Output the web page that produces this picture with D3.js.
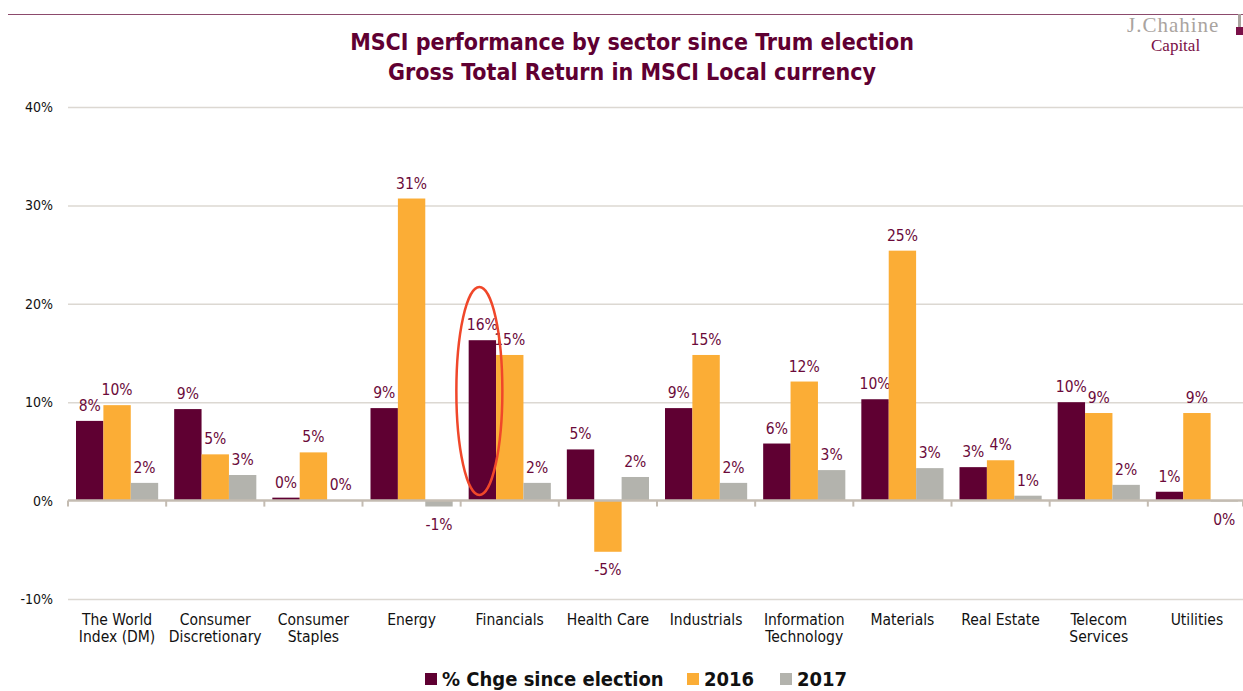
<!DOCTYPE html>
<html>
<head>
<meta charset="utf-8">
<script src="https://cdn.jsdelivr.net/npm/d3@7"></script>
<style>
  body { margin: 0; background: #fff; }
  svg { display: block; font-family: "DejaVu Sans Condensed", "DejaVu Sans", sans-serif; }
</style>
</head>
<body>
<svg id="chart" width="1243" height="691"></svg>
<script>
"use strict";

// chart data
const categories = [
  ["The World", "Index (DM)"], ["Consumer", "Discretionary"], ["Consumer", "Staples"],
  ["Energy"], ["Financials"], ["Health Care"], ["Industrials"],
  ["Information", "Technology"], ["Materials"], ["Real Estate"],
  ["Telecom", "Services"], ["Utilities"]
];
const seriesNames = ["% Chge since election", "2016", "2017"];
const sinceElection = [8.1, 9.3, 0.3, 9.4, 16.3, 5.2, 9.4, 5.8, 10.3, 3.4, 10.0, 0.9];
const y2016 = [9.7, 4.7, 4.9, 30.7, 14.8, -5.2, 14.8, 12.1, 25.4, 4.1, 8.9, 8.9];
const y2017 = [1.8, 2.6, 0.05, -0.6, 1.8, 2.4, 1.8, 3.1, 3.3, 0.5, 1.6, -0.1];
const yTicks = [-10, 0, 10, 20, 30, 40];

const colors = ["#5f0032", "#fbad36", "#b3b3ad"];
const labelColor = "#6b0a3a";

const svg = d3.select("#chart");
const m = { left: 68, right: -3, top: 107, bottom: 92 };
const W = 1243, H = 691;

const x = d3.scaleBand().domain(d3.range(categories.length))
  .range([m.left, W - m.right]).paddingInner(0).paddingOuter(0);
const y = d3.scaleLinear().domain([-10, 40]).range([H - m.bottom, m.top]);
const xs = d3.scaleBand().domain([0, 1, 2]).range([8, x.bandwidth() - 8]).padding(0);

// top rule + logo
svg.append("line").attr("x1", 8).attr("x2", W).attr("y1", 14.5).attr("y2", 14.5)
  .attr("stroke", "#8c4a6c").attr("stroke-width", 1);
svg.append("text").attr("x", 1127).attr("y", 32).attr("font-family", "Liberation Serif, serif")
  .attr("font-size", 21).attr("fill", "#aaa49f").attr("letter-spacing", 1).text("J.Chahine");
svg.append("text").attr("x", 1151).attr("y", 51).attr("font-family", "Liberation Serif, serif")
  .attr("font-size", 17).attr("fill", "#7a1048").text("Capital");
svg.append("rect").attr("x", 1236).attr("y", 27).attr("width", 7).attr("height", 8).attr("fill", "#7a1048");
svg.append("rect").attr("x", 1238).attr("y", 14).attr("width", 3).attr("height", 13).attr("fill", "#aaa49f");

// title
const title = svg.append("text").attr("text-anchor", "middle").attr("fill", "#5f0032")
  .attr("font-weight", "bold").attr("font-size", 23);
title.append("tspan").attr("x", 632).attr("y", 50).text("MSCI performance by sector since Trum election");
title.append("tspan").attr("x", 632).attr("y", 80).text("Gross Total Return in MSCI Local currency");

// gridlines + y labels
const yAxis = svg.append("g").attr("transform", `translate(${m.left},0)`)
  .call(d3.axisLeft(y).tickValues(yTicks).tickSize(-(W - m.left)).tickFormat(d => d + "%"));
yAxis.select(".domain").remove();
yAxis.selectAll(".tick line").attr("stroke", d => d === 0 ? "none" : "#dcd8d2").attr("stroke-width", 1.5);
yAxis.selectAll(".tick text").attr("x", -15).attr("font-size", 14).attr("fill", "#111")
  .attr("font-family", "DejaVu Sans Condensed, sans-serif");

// bars
const series = [sinceElection, y2016, y2017];
const groups = svg.append("g").selectAll("g").data(categories).join("g")
  .attr("transform", (d, i) => `translate(${x(i)},0)`);
groups.each(function (c, i) {
  const g = d3.select(this);
  series.forEach((s, k) => {
    const v = s[i];
    g.append("rect").attr("x", xs(k)).attr("width", xs.bandwidth())
      .attr("y", y(Math.max(0, v))).attr("height", Math.abs(y(v) - y(0)))
      .attr("fill", colors[k]);
    g.append("text").attr("x", xs(k) + xs.bandwidth() / 2)
      .attr("y", v >= 0 ? y(v) - 10 : y(v) + 23)
      .attr("text-anchor", "middle").attr("font-size", 15.5).attr("fill", labelColor)
      .text(Math.round(v) === 0 ? "0%" : Math.round(v) + "%");
  });
});

// zero axis with category ticks
const xAxis = svg.append("g").attr("transform", `translate(0,${y(0)})`);
xAxis.append("line").attr("x1", m.left).attr("x2", W).attr("stroke", "#c4bcb2").attr("stroke-width", 2.5);
xAxis.selectAll("line.tk").data(d3.range(categories.length + 1)).join("line").attr("class", "tk")
  .attr("x1", i => i < categories.length ? x(i) : W).attr("x2", i => i < categories.length ? x(i) : W)
  .attr("y1", 0).attr("y2", 6).attr("stroke", "#c4bcb2").attr("stroke-width", 2);

// category labels
groups.append("text").attr("text-anchor", "middle").attr("font-size", 15.5).attr("fill", "#111")
  .each(function (c) {
    const t = d3.select(this);
    c.forEach((line, j) => t.append("tspan").attr("x", x.bandwidth() / 2).attr("y", 625 + j * 17).text(line));
  });

// highlight ellipse on Financials
svg.append("ellipse").attr("cx", x(4) + xs(0) + xs.bandwidth() / 2 - 3).attr("cy", 391)
  .attr("rx", 23).attr("ry", 104).attr("fill", "none").attr("stroke", "#f0472a").attr("stroke-width", 2.5);

// legend
const legX = [425, 687, 780];
const leg = svg.append("g").selectAll("g").data(seriesNames).join("g")
  .attr("transform", (d, i) => `translate(${legX[i]},673)`);
leg.append("rect").attr("width", 12).attr("height", 12).attr("fill", (d, i) => colors[i]);
leg.append("text").attr("x", 17).attr("y", 13).attr("font-size", 20).attr("font-weight", "bold")
  .attr("fill", "#111").text(d => d);
</script>
</body>
</html>
